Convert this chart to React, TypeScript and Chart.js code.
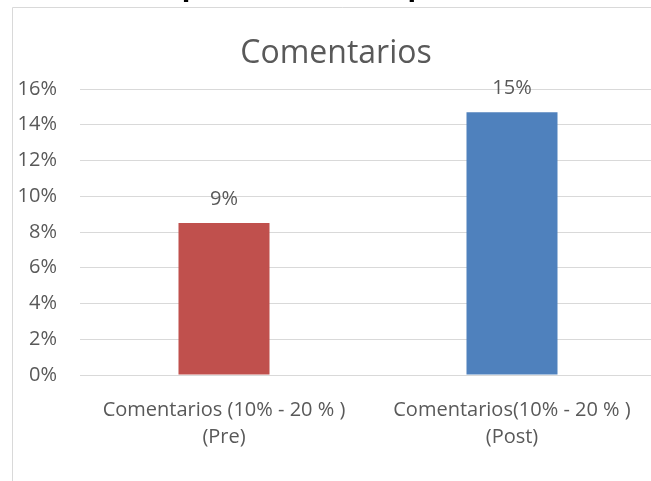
import React, { useEffect, useRef } from "react";
import { Chart, registerables } from "chart.js";

Chart.register(...registerables);

const categories: string[][] = [
  ["Comentarios (10% - 20 % )", "(Pre)"],
  ["Comentarios(10% - 20 % )", "(Post)"],
];
const values: number[] = [0.085, 0.147];
const barColors: string[] = ["#C0504D", "#4F81BD"];
const chartTitle = "Comentarios";
const headingText = "implementación aplicada";

const TEXT = "#595959";
const GRID = "#D9D9D9";
const FONT = "'Open Sans', sans-serif";

const pct = (v: number) => `${Math.round(v * 100)}%`;

// Frame border, the clipped heading above it, and value labels over bars
const decorations = {
  id: "decorations",
  afterDraw(chart: Chart) {
    const ctx = chart.ctx;
    ctx.save();
    ctx.strokeStyle = GRID;
    ctx.lineWidth = 1;
    ctx.beginPath();
    ctx.moveTo(12.5, chart.height);
    ctx.lineTo(12.5, 7.5);
    ctx.lineTo(chart.width, 7.5);
    ctx.stroke();

    ctx.fillStyle = "#000";
    ctx.font = "bold 31px 'Liberation Sans', Arial, sans-serif";
    ctx.textAlign = "center";
    ctx.textBaseline = "alphabetic";
    ctx.fillText(headingText, 330, -5);

    const meta = chart.getDatasetMeta(0);
    ctx.fillStyle = TEXT;
    ctx.font = `20px ${FONT}`;
    ctx.textBaseline = "middle";
    meta.data.forEach((bar: any, i: number) => {
      ctx.fillText(pct(values[i]), bar.x, bar.y - 24);
    });
    ctx.restore();
  },
};

export default function App() {
  const canvasRef = useRef<HTMLCanvasElement | null>(null);

  useEffect(() => {
    if (!canvasRef.current) return;
    const chart = new Chart(canvasRef.current, {
      type: "bar",
      data: {
        labels: categories,
        datasets: [
          {
            data: values,
            backgroundColor: barColors,
            borderWidth: 0,
            categoryPercentage: 1,
            barPercentage: 0.316,
          },
        ],
      },
      options: {
        responsive: false,
        animation: false,
        layout: { padding: { top: 0, right: 16, bottom: 0, left: 16 } },
        plugins: {
          legend: { display: false },
          tooltip: { enabled: false },
          title: {
            display: true,
            text: chartTitle,
            color: TEXT,
            font: { family: FONT, size: 32, weight: "normal", lineHeight: 1.2 },
            padding: { top: 35, bottom: 15.6 },
          },
        },
        scales: {
          x: {
            grid: { display: false, drawTicks: false },
            border: { display: false },
            ticks: {
              color: TEXT,
              font: { family: FONT, size: 20, lineHeight: 1.35 },
              padding: 22,
              maxRotation: 0,
              autoSkip: false,
            },
            afterFit(scale: any) {
              scale.height = 106;
            },
          },
          y: {
            min: 0,
            max: 0.16,
            grid: { color: GRID, lineWidth: 1, drawTicks: false },
            border: { display: false },
            ticks: {
              stepSize: 0.02,
              color: TEXT,
              font: { family: FONT, size: 20 },
              padding: 23,
              callback: (v: any) => pct(Number(v)),
            },
            afterFit(scale: any) {
              scale.width = 64;
            },
          },
        },
      },
      plugins: [decorations],
    });
    return () => chart.destroy();
  }, []);

  return (
    <div
      style={{
        position: "fixed",
        left: 0,
        top: 0,
        width: 651,
        height: 481,
        overflow: "hidden",
        background: "#fff",
      }}
    >
      <canvas ref={canvasRef} width={672} height={481} />
    </div>
  );
}
